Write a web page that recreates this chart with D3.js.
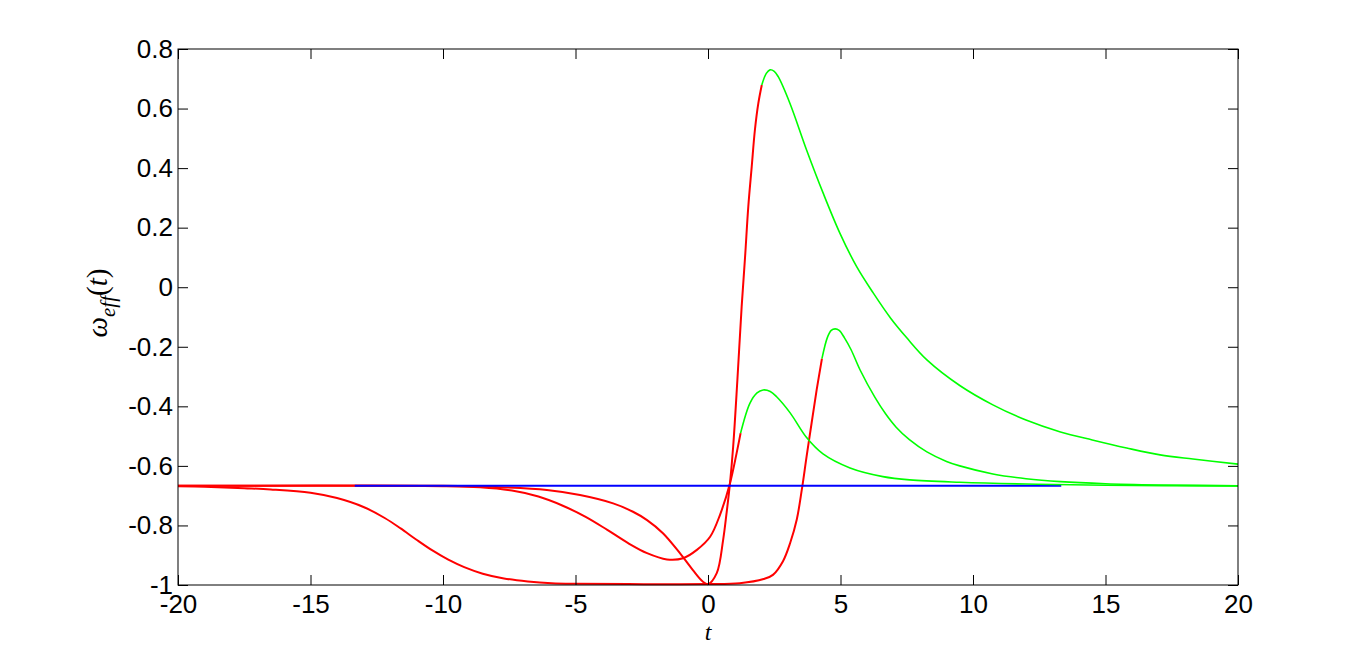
<!DOCTYPE html>
<html>
<head>
<meta charset="utf-8">
<script src="https://cdn.jsdelivr.net/npm/d3@7"></script>
<style>
  body { margin: 0; background: #fff; }
  svg { display: block; }
</style>
</head>
<body>
<div id="chart"></div>
<script>
// tick values
const xTicks = [-20, -15, -10, -5, 0, 5, 10, 15, 20];
const yTicks = [-1, -0.8, -0.6, -0.4, -0.2, 0, 0.2, 0.4, 0.6, 0.8];

// red parts (before switch) and green parts (after switch)
const tRed1 = [-20, -19, -17.5, -16.5, -15, -14, -13, -12.2, -11.6, -11, -10.4, -9.8, -9.2, -8.5, -7.7, -6.8, -5.9, -5, -3, 0, 1.2, 2.1, 2.45, 2.83, 3.1, 3.35, 3.54, 3.72, 3.91, 4.1, 4.3];
const vRed1 = [-0.668, -0.670, -0.675, -0.679, -0.69, -0.708, -0.738, -0.775, -0.81, -0.848, -0.884, -0.915, -0.94, -0.962, -0.978, -0.988, -0.994, -0.996, -0.997, -0.997, -0.994, -0.98, -0.966, -0.92, -0.859, -0.78, -0.68, -0.569, -0.456, -0.345, -0.24];
const tGreen1 = [4.3, 4.5, 4.65, 4.8, 4.95, 5.15, 5.4, 5.74, 6.3, 6.7, 7.1, 7.6, 8.26, 9.0, 9.5, 10.75, 12, 13.3, 15, 17, 20];
const vGreen1 = [-0.24, -0.17, -0.145, -0.14, -0.145, -0.17, -0.21, -0.278, -0.37, -0.425, -0.47, -0.512, -0.553, -0.585, -0.6, -0.627, -0.643, -0.653, -0.66, -0.664, -0.667];

const tRed2 = [-20, -15, -10, -8.6, -7.4, -6.4, -5.5, -4.6, -3.8, -3.0, -2.3, -1.55, -0.94, -0.42, 0.08, 0.45, 0.83, 1.08, 1.23];
const vRed2 = [-0.667, -0.667, -0.668, -0.672, -0.683, -0.703, -0.733, -0.772, -0.815, -0.86, -0.893, -0.914, -0.91, -0.882, -0.838, -0.765, -0.658, -0.557, -0.49];
const tGreen2 = [1.23, 1.58, 1.85, 2.08, 2.35, 2.59, 3.1, 3.72, 4.34, 5.36, 6.6, 7.62, 9.5, 12, 15, 20];
const vGreen2 = [-0.49, -0.39, -0.355, -0.345, -0.35, -0.368, -0.422, -0.505, -0.56, -0.607, -0.636, -0.647, -0.655, -0.661, -0.665, -0.667];

const tRed3 = [-20, -10, -8, -6.08, -4.83, -3.58, -2.83, -2.3, -1.7, -1.06, -0.57, -0.19, 0, 0.33, 0.57, 0.7, 0.83, 0.95, 1.11, 1.27, 1.4, 1.52, 1.65, 1.77, 1.9, 2.03];
const vRed3 = [-0.667, -0.667, -0.671, -0.681, -0.698, -0.726, -0.754, -0.782, -0.826, -0.893, -0.95, -0.989, -0.997, -0.96, -0.849, -0.759, -0.658, -0.535, -0.31, -0.065, 0.103, 0.27, 0.405, 0.528, 0.618, 0.679];
const tGreen3 = [2.03, 2.2, 2.34, 2.5, 2.65, 3.09, 3.72, 4.35, 4.98, 5.61, 6.24, 6.9, 7.5, 8.26, 9.5, 10.75, 12, 13.3, 14.5, 15.8, 17.06, 18.3, 20];
const vGreen3 = [0.679, 0.718, 0.73, 0.725, 0.707, 0.618, 0.461, 0.315, 0.181, 0.069, -0.02, -0.105, -0.17, -0.244, -0.33, -0.395, -0.446, -0.486, -0.513, -0.54, -0.563, -0.577, -0.594];

// steady state
const tBlue = [-13.33, 13.33];
const vBlue = [-0.6667, -0.6667];

function draw() {
    const width = 1367, height = 657;
    const margin = {top: 49, right: 129, bottom: 72, left: 178};
    const w = width - margin.left - margin.right;
    const h = height - margin.top - margin.bottom;

    const svg = d3.select("#chart").append("svg")
        .attr("width", width)
        .attr("height", height)
        .style("background", "#fff");

    const g = svg.append("g")
        .attr("transform", `translate(${margin.left},${margin.top})`);

    const x = d3.scaleLinear().domain([-20, 20]).range([0, w]);
    const y = d3.scaleLinear().domain([-1, 0.8]).range([h, 0]);

    const line = d3.line()
        .x(d => x(d[0]))
        .y(d => y(d[1]))
        .curve(d3.curveCatmullRom.alpha(0.5));

    const zip = (ts, vs) => ts.map((t, i) => [t, vs[i]]);

    const curves = [
        {t: tRed1, v: vRed1, color: "#ff0000", sw: 2},
        {t: tRed2, v: vRed2, color: "#ff0000", sw: 2},
        {t: tRed3, v: vRed3, color: "#ff0000", sw: 2},
        {t: tBlue, v: vBlue, color: "#0000ff", sw: 2},
        {t: tGreen1, v: vGreen1, color: "#00ff00", sw: 1.6},
        {t: tGreen2, v: vGreen2, color: "#00ff00", sw: 1.6},
        {t: tGreen3, v: vGreen3, color: "#00ff00", sw: 1.6}
    ];

    g.selectAll("path.curve")
        .data(curves)
        .enter().append("path")
        .attr("class", "curve")
        .attr("d", d => line(zip(d.t, d.v)))
        .attr("fill", "none")
        .attr("stroke", d => d.color)
        .attr("stroke-width", d => d.sw);

    const font = "'Liberation Sans', Arial, Helvetica, sans-serif";
    const fmtY = d => d === 0 ? "0" : String(Math.round(d * 10) / 10);

    // axes with inward ticks
    const ax = g.append("g").attr("transform", `translate(0,${h})`)
        .call(d3.axisBottom(x).tickValues(xTicks).tickSize(-10).tickPadding(10).tickFormat(d => String(d)));
    const ay = g.append("g")
        .call(d3.axisLeft(y).tickValues(yTicks).tickSize(-10).tickPadding(5).tickFormat(fmtY));
    g.append("g")
        .call(d3.axisTop(x).tickValues(xTicks).tickSize(-10).tickFormat(""));
    g.append("g").attr("transform", `translate(${w},0)`)
        .call(d3.axisRight(y).tickValues(yTicks).tickSize(-10).tickFormat(""));

    g.selectAll(".domain").remove();
    g.selectAll(".tick line").attr("stroke", "#000").attr("stroke-width", 1);
    [ax, ay].forEach(a => a.selectAll("text")
        .style("font-family", font)
        .style("font-size", "26px")
        .attr("fill", "#000"));

    g.append("rect")
        .attr("width", w)
        .attr("height", h)
        .attr("fill", "none")
        .attr("stroke", "#000")
        .attr("stroke-width", 1);

    // axis labels
    svg.append("text")
        .attr("x", margin.left + x(0))
        .attr("y", 640)
        .attr("text-anchor", "middle")
        .style("font-family", "'Liberation Serif', 'Times New Roman', serif")
        .style("font-style", "italic")
        .style("font-size", "24px")
        .text("t");

    const yl = svg.append("text")
        .attr("transform", "translate(107,303) rotate(-90)")
        .attr("text-anchor", "middle")
        .style("font-family", "'Liberation Serif', 'Times New Roman', serif")
        .style("font-size", "29px");
    yl.append("tspan").style("font-style", "italic").text("\u03c9");
    yl.append("tspan").attr("dy", 8).style("font-style", "italic").style("font-size", "21px").text("eff");
    yl.append("tspan").attr("dy", -8).text("(");
    yl.append("tspan").style("font-style", "italic").text("t");
    yl.append("tspan").text(")");
}

draw();
</script>
</body>
</html>
